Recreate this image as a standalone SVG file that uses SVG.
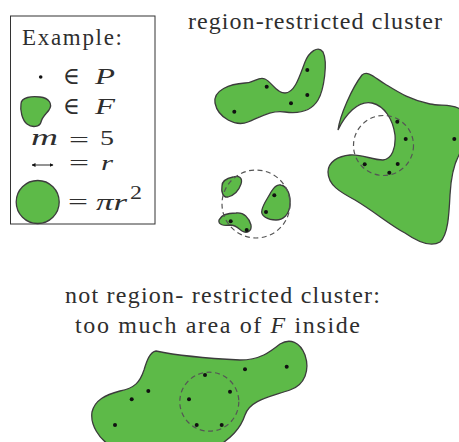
<svg xmlns="http://www.w3.org/2000/svg" width="459" height="442" viewBox="0 0 459 442">
<style>
.t{font-family:"Liberation Serif","DejaVu Serif",serif;fill:#2e2e2e}
.m{font-family:"Liberation Serif","DejaVu Serif",serif;fill:#2e2e2e;font-size:24px}
.e{font-family:"Liberation Serif","DejaVu Serif",serif;fill:#2e2e2e;font-size:20px}
.i{font-style:italic}
.blob{fill:#5dba48;stroke:#3c3c3c;stroke-width:1.3}
.dash{fill:none;stroke:#555;stroke-width:1.2;stroke-dasharray:5 3.5}
.pt{fill:#111}
</style>
<defs>
<marker id="ah" markerWidth="4" markerHeight="4" refX="3.5" refY="2" orient="auto-start-reverse" markerUnits="userSpaceOnUse"><path d="M0,0 L4,2 L0,4 Z" fill="#111"/></marker>
</defs>
<rect width="459" height="442" fill="#fff"/>

<g id="legend">
<rect x="10.5" y="16" width="144.5" height="208" fill="none" stroke="#333" stroke-width="1"/>
<text class="t" x="22" y="45" font-size="23" textLength="100" lengthAdjust="spacing">Example:</text>
<circle class="pt" cx="40.7" cy="77" r="1.8"/>
<text class="m" x="63" y="84" textLength="17" lengthAdjust="spacingAndGlyphs">∈</text>
<text class="m i" x="95" y="84" textLength="20" lengthAdjust="spacingAndGlyphs">P</text>
<path class="blob" d="M21,104 C21,97 32,96 40,97 C49,98 53,104 49,110 C46,114 42,117 41,122 C40,127 32,128 27,124 C22,120 20,110 21,104 Z"/>
<text class="m" x="63" y="114" textLength="17" lengthAdjust="spacingAndGlyphs">∈</text>
<text class="m i" x="95" y="114" textLength="20" lengthAdjust="spacingAndGlyphs">F</text>
<text class="m i" x="31" y="145" textLength="27" lengthAdjust="spacingAndGlyphs">m</text>
<text class="e" x="69" y="147" textLength="20" lengthAdjust="spacingAndGlyphs">=</text>
<text class="t" x="100" y="145" font-size="22" textLength="14" lengthAdjust="spacingAndGlyphs">5</text>
<line x1="32" y1="165" x2="53" y2="165" stroke="#111" stroke-width="0.9" marker-start="url(#ah)" marker-end="url(#ah)"/>
<text class="e" x="69" y="170" textLength="20" lengthAdjust="spacingAndGlyphs">=</text>
<text class="t i" x="101" y="170" font-size="22" textLength="12" lengthAdjust="spacingAndGlyphs">r</text>
<circle class="blob" cx="37.7" cy="202" r="21.5"/>
<text class="e" x="68" y="209" textLength="20" lengthAdjust="spacingAndGlyphs">=</text>
<text class="m i" x="96" y="210" textLength="31" lengthAdjust="spacingAndGlyphs">πr</text>
<text class="t" x="130" y="199" font-size="18" textLength="12" lengthAdjust="spacingAndGlyphs">2</text>
</g>

<g id="title-top">
<text class="t" x="188" y="29" font-size="24" textLength="254" lengthAdjust="spacing">region-restricted cluster</text>
</g>
<g id="title-bottom">
<text class="t" x="65" y="303" font-size="24" textLength="315" lengthAdjust="spacing">not region- restricted cluster:</text>
<text class="t" x="75" y="333" font-size="24" textLength="285" lengthAdjust="spacing">too much area of <tspan class="i">F</tspan> inside</text>
</g>

<g id="cluster-top-left">
<path class="blob" d="M215,103 C213,90 230,84 245,83 C255,83 258,76 265,79 C272,82 276,93 285,93 C295,93 300,75 305,62 C309,52 318,45 323,52 C328,62 324,90 318,100 C312,110 300,114 285,112 C272,110 262,116 248,122 C236,127 218,118 215,103 Z"/>
<circle class="pt" cx="234.3" cy="111.7" r="2"/>
<circle class="pt" cx="266.7" cy="86.7" r="2"/>
<circle class="pt" cx="291" cy="103.3" r="2"/>
<circle class="pt" cx="307.3" cy="95" r="2"/>
<circle class="pt" cx="307.3" cy="70" r="2"/>
</g>

<g id="cluster-big">
<path class="blob" d="M338,130 C340,115 352,88 362,75 C368,70 375,78 385,84 C398,92 410,100 430,104 C440,106 450,104 458,108 L462,110 L462,150 C455,160 451,175 450,195 C449,215 448,235 440,242 C430,248 415,240 405,233 C390,225 375,212 355,200 C340,192 328,185 328,172 C328,162 338,156 350,155 C362,154 372,160 383,160 C392,159 396,148 395,135 C393,120 385,106 372,103 C358,100 345,115 338,130 Z"/>
<circle class="dash" cx="383.5" cy="145.5" r="30"/>
<circle class="pt" cx="397.3" cy="121.7" r="2"/>
<circle class="pt" cx="405.7" cy="139" r="2"/>
<circle class="pt" cx="397.7" cy="164" r="2"/>
<circle class="pt" cx="389.3" cy="172.7" r="2"/>
<circle class="pt" cx="364.7" cy="164.3" r="2"/>
<circle class="pt" cx="454.3" cy="139" r="2"/>
</g>

<g id="cluster-small">
<path class="blob" d="M222,186 C222,180 228,178 233,177 C239,175 243,178 241,184 C239,190 235,195 228,197 C223,198 221,192 222,186 Z"/>
<path class="blob" d="M271,192 C274,187 277,184 281,185 C287,186 291,195 290,205 C289,215 283,220 276,220 C268,220 260,216 262,210 C263,204 268,198 271,192 Z"/>
<path class="blob" d="M219,220 C221,215 228,213 236,213 C244,212 249,218 251,225 C252,231 247,234 242,231 C238,228 236,225 230,225 C224,226 218,225 219,220 Z"/>
<circle class="dash" cx="256" cy="204" r="34"/>
<circle class="pt" cx="274.3" cy="195.3" r="2"/>
<circle class="pt" cx="266" cy="212" r="2"/>
<circle class="pt" cx="230.7" cy="221.3" r="2"/>
<circle class="pt" cx="246.7" cy="230" r="2"/>
</g>

<g id="cluster-bottom">
<path class="blob" d="M92,412 C95,400 105,395 120,391 C135,388 140,382 144,370 C147,360 150,352 156,351 C170,354 200,358 240,360 C260,360 270,352 280,344 C290,338 300,342 305,355 C310,370 305,385 290,390 C270,397 250,400 245,415 C240,430 230,438 220,445 L110,445 C100,440 90,425 92,412 Z"/>
<circle class="dash" cx="209.3" cy="401.7" r="29.5"/>
<circle class="pt" cx="115" cy="425" r="2"/>
<circle class="pt" cx="131.7" cy="399.3" r="2"/>
<circle class="pt" cx="148.3" cy="391" r="2"/>
<circle class="pt" cx="205" cy="375" r="2"/>
<circle class="pt" cx="230" cy="391.7" r="2"/>
<circle class="pt" cx="189" cy="399.3" r="2"/>
<circle class="pt" cx="196.7" cy="425" r="2"/>
<circle class="pt" cx="221.7" cy="425" r="2"/>
<circle class="pt" cx="245" cy="369.3" r="2"/>
<circle class="pt" cx="286.7" cy="366.7" r="2"/>
</g>
</svg>
